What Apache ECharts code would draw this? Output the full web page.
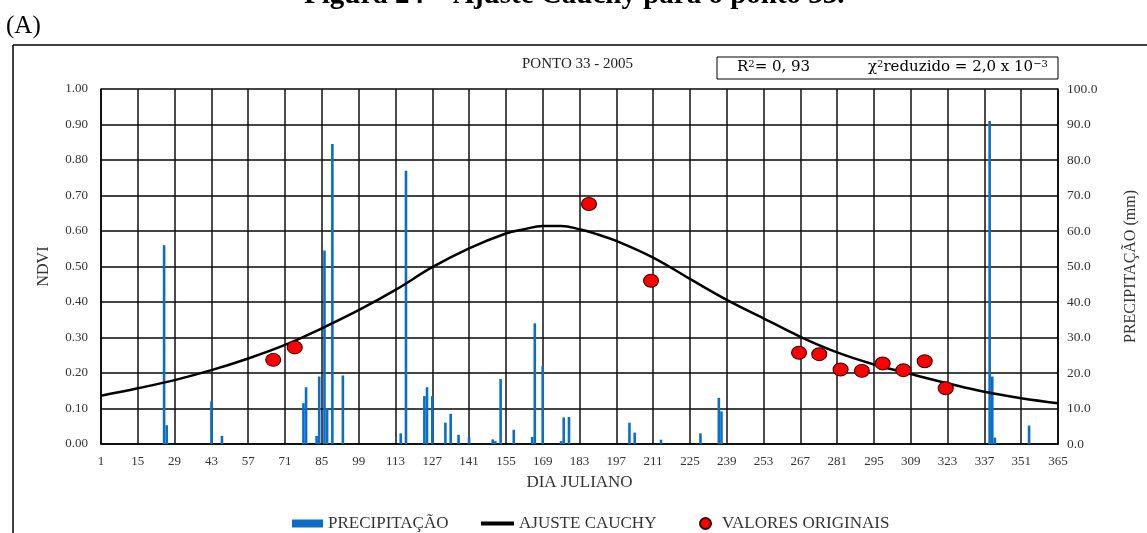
<!DOCTYPE html>
<html>
<head>
<meta charset="utf-8">
<title>Ponto 33 - 2005</title>
<script src="https://cdn.jsdelivr.net/npm/echarts@6.0.0/dist/echarts.min.js"></script>
<style>
  html, body { margin: 0; padding: 0; background: #fff; }
  #mapChart { width: 1147px; height: 533px; }
</style>
</head>
<body>
<div id="mapChart"></div>
<script>
// precipitação diária (mm) - dia juliano
var precipDias = [25, 26, 43, 47, 78, 79, 83, 84, 86, 87, 89, 93, 115, 117, 124, 125, 127, 132, 134, 137, 141,
    150, 151, 153, 158, 165, 166, 169, 176, 177, 179, 202, 204, 214, 229, 236, 237, 339, 340, 341, 354];
var precipMm = [56, 5.3, 12, 2.3, 11.5, 16, 2.3, 19, 54.5, 10, 84.5, 19.3, 3, 77, 13.5, 16, 13.5, 6, 8.5, 2.6, 1.9,
    1.3, 0.8, 18.3, 4, 2, 34, 22, 0.8, 7.5, 7.6, 6, 3.2, 1.2, 3, 13, 9.2, 91, 19, 1.8, 5.2];

// curva do ajuste Cauchy
var ajusteDias = [1, 15, 29, 43, 57, 71, 85, 99, 113, 127, 141, 155, 162, 169, 176, 183, 190, 197, 211, 225, 239, 253,
    267, 281, 295, 309, 323, 337, 351, 365];
var ajusteNdvi = [0.136, 0.157, 0.180, 0.208, 0.241, 0.279, 0.326, 0.377, 0.434, 0.498, 0.551, 0.593, 0.605, 0.614,
    0.614, 0.605, 0.590, 0.572, 0.525, 0.465, 0.406, 0.354, 0.302, 0.258, 0.224, 0.197, 0.171, 0.147, 0.129, 0.115];

// valores originais de NDVI
var ndviDias = [66.5, 74.7, 186.6, 210.2, 266.5, 274.2, 282.3, 290.4, 298.3, 306.2, 314.3, 322.3];
var ndviValores = [0.237, 0.272, 0.676, 0.46, 0.257, 0.253, 0.210, 0.206, 0.227, 0.208, 0.233, 0.157];

var fonte = 'Liberation Serif, Times New Roman, serif';
var fonteBox = 'DejaVu Serif, serif';

// eixo x começa em 0 (dia 1) para que os ticks caiam de 14 em 14
function pares(dias, vals) {
    var out = [];
    for (var i = 0; i < dias.length; i++) {
        out.push([dias[i] - 1, vals[i]]);
    }
    return out;
}

var myChart = echarts.init(document.getElementById('mapChart'));

var legendText = { fontFamily: fonte, fontSize: 17, color: '#333' };

myChart.setOption({
    backgroundColor: '#fff',
    animation: false,
    textStyle: { fontFamily: fonte },
    grid: { left: 101, right: 89, top: 89, bottom: 89 },
    legend: [
        {
            left: 287, top: 510, itemWidth: 31, itemHeight: 8, icon: 'rect',
            textStyle: legendText,
            data: ['PRECIPITAÇÃO']
        },
        {
            left: 476, top: 510, itemWidth: 33, itemHeight: 4, icon: 'rect',
            textStyle: legendText,
            data: ['AJUSTE CAUCHY']
        },
        {
            left: 694, top: 510, itemWidth: 11, itemHeight: 11, icon: 'circle',
            textStyle: { fontFamily: fonte, fontSize: 17, color: '#333', padding: [0, 0, 0, 6] },
            data: ['VALORES ORIGINAIS']
        }
    ],
    xAxis: {
        type: 'value',
        min: 0,
        max: 364,
        interval: 14,
        name: 'DIA JULIANO',
        nameLocation: 'middle',
        nameGap: 30,
        nameTextStyle: { fontFamily: fonte, fontSize: 17, color: '#333' },
        axisLine: { lineStyle: { color: '#000', width: 1.5 } },
        axisTick: { show: false },
        axisLabel: {
            margin: 11, fontFamily: fonte, fontSize: 13, color: '#333',
            formatter: function (v) { return String(v + 1); }
        },
        splitLine: { show: true, lineStyle: { color: '#111', width: 1.5 } }
    },
    yAxis: [
        {
            type: 'value',
            min: 0, max: 1, interval: 0.1,
            name: 'NDVI',
            nameLocation: 'middle',
            nameGap: 49,
            nameRotate: 90,
            nameTextStyle: { fontFamily: fonte, fontSize: 16, color: '#333' },
            axisLine: { show: true, lineStyle: { color: '#000', width: 1.5 } },
            axisTick: { show: false },
            axisLabel: {
                margin: 13, fontFamily: fonte, fontSize: 13, color: '#333',
                formatter: function (v) { return v.toFixed(2); }
            },
            splitLine: { show: true, lineStyle: { color: '#444', width: 2 } }
        },
        {
            type: 'value',
            min: 0, max: 100, interval: 10,
            name: 'PRECIPITAÇÃO (mm)',
            nameLocation: 'middle',
            nameGap: 65,
            nameRotate: 90,
            nameTextStyle: { fontFamily: fonte, fontSize: 16, color: '#333' },
            axisLine: { show: true, lineStyle: { color: '#000', width: 1.5 } },
            axisTick: { show: false },
            axisLabel: {
                margin: 9, fontFamily: fonte, fontSize: 13.5, color: '#333',
                formatter: function (v) { return v.toFixed(1); }
            },
            splitLine: { show: false }
        }
    ],
    series: [
        {
            name: 'PRECIPITAÇÃO',
            type: 'bar',
            yAxisIndex: 1,
            barWidth: 2.6,
            barGap: '-100%',
            itemStyle: { color: '#0a6ec8' },
            data: pares(precipDias, precipMm),
            z: 2
        },
        {
            name: 'AJUSTE CAUCHY',
            type: 'line',
            yAxisIndex: 0,
            smooth: 0.4,
            showSymbol: false,
            symbol: 'none',
            lineStyle: { color: '#000', width: 2.5 },
            itemStyle: { color: '#000' },
            data: pares(ajusteDias, ajusteNdvi),
            z: 3
        },
        {
            name: 'VALORES ORIGINAIS',
            type: 'scatter',
            yAxisIndex: 0,
            symbol: 'circle',
            symbolSize: [15, 13],
            itemStyle: { color: '#ff0000', borderColor: '#3a0000', borderWidth: 1, opacity: 1 },
            data: pares(ndviDias, ndviValores),
            z: 4
        }
    ],
    graphic: [
        // legenda da figura (cortada no topo)
        {
            type: 'text', left: 304, top: -19,
            style: { text: 'Figura 24 – Ajuste Cauchy para o ponto 33.', font: 'bold 29px ' + fonte, fill: '#000' }
        },
        {
            type: 'text', left: 6, top: 14,
            style: { text: '(A)', font: '25px ' + fonte, fill: '#000' }
        },
        // moldura
        {
            type: 'line', silent: true,
            shape: { x1: 13, y1: 45, x2: 1147, y2: 45 },
            style: { stroke: '#000', lineWidth: 1.5 }
        },
        {
            type: 'line', silent: true,
            shape: { x1: 13, y1: 45, x2: 13, y2: 533 },
            style: { stroke: '#000', lineWidth: 1.5 }
        },
        {
            type: 'text', left: 522, top: 57,
            style: { text: 'PONTO 33 - 2005', font: '15px ' + fonte, fill: '#222' }
        },
        {
            type: 'rect', silent: true,
            shape: { x: 717, y: 57, width: 341, height: 22 },
            style: { fill: '#fff', stroke: '#000', lineWidth: 1 }
        },
        {
            type: 'text', left: 737, top: 59,
            style: {
                text: '{a|R}{s|2}{a|= 0, 93}',
                rich: {
                    a: { font: '15px ' + fonteBox, fill: '#000' },
                    s: { font: '10px ' + fonteBox, fill: '#000', verticalAlign: 'top', padding: [0, 0, 7, 0] }
                }
            }
        },
        {
            type: 'text', left: 868, top: 59,
            style: {
                text: '{a|χ}{s|2}{a|reduzido = 2,0 x 10}{s|−3}',
                rich: {
                    a: { font: '15px ' + fonteBox, fill: '#000' },
                    s: { font: '10px ' + fonteBox, fill: '#000', verticalAlign: 'top', padding: [0, 0, 7, 0] }
                }
            }
        }
    ]
});
</script>
</body>
</html>
